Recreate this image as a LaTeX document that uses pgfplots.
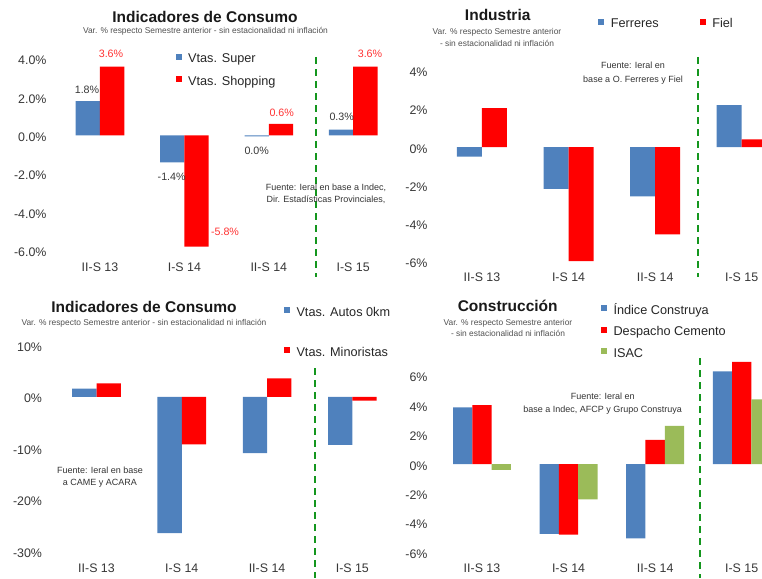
\documentclass[border=0pt]{standalone}
\usepackage{pgfplots}
\pgfplotsset{compat=1.18}
\usepackage{fontspec}
\setmainfont{Liberation Sans}
\definecolor{cblue}{RGB}{79,129,189}
\definecolor{cred}{RGB}{255,0,0}
\definecolor{cgreen}{RGB}{155,187,89}
\definecolor{dgreen}{RGB}{20,150,30}
\definecolor{tickc}{RGB}{55,55,55}
\definecolor{subc}{RGB}{80,80,80}
\definecolor{lred}{RGB}{255,50,50}
\pgfplotsset{
  panel/.style={scale only axis, anchor=south west,
    axis line style={draw=none}, major tick length=0pt,
    xtick={0,1,2,3}, xticklabels={II-S 13,I-S 14,II-S 14,I-S 15},
    tick label style={font=\fontsize{12.4}{14}\selectfont, text=tickc},
    yticklabel style={anchor=base east, yshift=-6pt},
    /pgf/number format/assume math mode=true,
    legend style={draw=none, fill=none, inner sep=0pt, outer sep=0pt, anchor=north west,
      font=\fontsize{12.7}{14}\selectfont, text=black!85,
      nodes={inner sep=0pt, text height=9pt, text depth=3pt}, column sep=6.5pt},
    legend cell align=left},
  sqb/.style={legend image code/.code={\fill[cblue] (0pt,0pt) rectangle (6pt,6pt);}},
  sqr/.style={legend image code/.code={\fill[cred] (0pt,0pt) rectangle (6pt,6pt);}},
  sqg/.style={legend image code/.code={\fill[cgreen] (0pt,0pt) rectangle (6pt,6pt);}},
}
\begin{document}
\begin{tikzpicture}
\useasboundingbox (0,0) rectangle (762pt,-578pt);
\clip (0,0) rectangle (762pt,-578pt);

% ---------- Panel 1 ----------
\begin{axis}[panel, at={(50pt,-254.2pt)}, width=336.96pt, height=212.57pt,
  xmin=-0.5924, xmax=3.4, ymin=-6.2, ymax=4.9,
  ytick={-6,-4,-2,0,2,4}, yticklabels={-6.0\%,-4.0\%,-2.0\%,0.0\%,2.0\%,4.0\%},
  xticklabel style={anchor=base, yshift=-17.1pt},
  legend style={at={(0.373,0.944)}, row sep=10.5pt}]
\addplot[ybar, fill=cblue, draw=none, bar width=24.3pt, bar shift=-12.15pt, sqb]
  coordinates {(0,1.8) (1,-1.4) (2,-0.05) (3,0.3)};
\addplot[ybar, fill=cred, draw=none, bar width=24.3pt, bar shift=12.15pt, sqr]
  coordinates {(0,3.6) (1,-5.8) (2,0.6) (3,3.6)};
\legend{Vtas. Super, Vtas. Shopping}
\end{axis}

% ---------- Panel 2 ----------
\begin{axis}[panel, at={(431pt,-270.5pt)}, width=330.96pt, height=216.6pt,
  xmin=-0.589, xmax=3.234, ymin=-6.5, ymax=4.9,
  ytick={-6,-4,-2,0,2,4}, yticklabels={-6\%,-4\%,-2\%,0\%,2\%,4\%},
  xticklabel style={anchor=base, yshift=-10.5pt},
  legend columns=2,
  legend style={at={(0.5055,1.162)}, /tikz/every even column/.append style={column sep=41pt}}]
\addplot[ybar, fill=cblue, draw=none, bar width=25pt, bar shift=-12.5pt, sqb]
  coordinates {(0,-0.5) (1,-2.2) (2,-2.6) (3,2.2)};
\addplot[ybar, fill=cred, draw=none, bar width=25pt, bar shift=12.5pt, sqr]
  coordinates {(0,2.05) (1,-6.0) (2,-4.6) (3,0.4)};
\legend{Ferreres, Fiel}
\end{axis}

% ---------- Panel 3 ----------
\begin{axis}[panel, at={(45.5pt,-558.9pt)}, width=335.5pt, height=218.45pt,
  xmin=-0.598, xmax=3.336, ymin=-31.5, ymax=11,
  ytick={-30,-20,-10,0,10}, yticklabels={-30\%,-20\%,-10\%,0\%,10\%},
  xticklabel style={anchor=base, yshift=-13.4pt},
  legend style={at={(0.7109,1.1522)}, row sep=28pt}]
\addplot[ybar, fill=cblue, draw=none, bar width=24.3pt, bar shift=-12.15pt, sqb]
  coordinates {(0,1.65) (1,-26.5) (2,-10.9) (3,-9.3)};
\addplot[ybar, fill=cred, draw=none, bar width=24.3pt, bar shift=12.15pt, sqr]
  coordinates {(0,2.65) (1,-9.2) (2,3.6) (3,-0.7)};
\legend{Vtas. Autos 0km, Vtas. Minoristas}
\end{axis}

% ---------- Panel 4 ----------
\begin{axis}[panel, at={(431pt,-560pt)}, width=330.96pt, height=203.4pt,
  xmin=-0.589, xmax=3.234, ymin=-6.52, ymax=7.3,
  ytick={-6,-4,-2,0,2,4,6}, yticklabels={-6\%,-4\%,-2\%,0\%,2\%,4\%,6\%},
  xticklabel style={anchor=base, yshift=-12.6pt},
  legend style={at={(0.5137,1.2537)}, row sep=9.5pt}]
\addplot[ybar, fill=cblue, draw=none, bar width=19.3pt, bar shift=-19.3pt, sqb]
  coordinates {(0,3.85) (1,-4.75) (2,-5.05) (3,6.3)};
\addplot[ybar, fill=cred, draw=none, bar width=19.3pt, bar shift=0pt, sqr]
  coordinates {(0,4.0) (1,-4.8) (2,1.65) (3,6.95)};
\addplot[ybar, fill=cgreen, draw=none, bar width=19.3pt, bar shift=19.3pt, sqg]
  coordinates {(0,-0.4) (1,-2.4) (2,2.6) (3,4.4)};
\legend{Índice Construya, Despacho Cemento, ISAC}
\end{axis}

% ---------- dashed separators ----------
\begin{scope}[dgreen, line width=1.8pt, dash pattern=on 7pt off 5pt]
\draw (315.7pt,-57pt) -- (315.7pt,-277pt);
\draw (697.7pt,-57pt) -- (697.7pt,-277pt);
\draw (315pt,-368pt) -- (315pt,-578pt);
\draw (700pt,-358pt) -- (700pt,-578pt);
\end{scope}

% ---------- titles ----------
\begin{scope}[every node/.style={inner sep=0pt}]
\node[font=\fontsize{15.5}{18}\selectfont\bfseries, text=black!90] at (205pt,-16.5pt) {Indicadores de Consumo};
\node[font=\fontsize{8.4}{10}\selectfont, text=subc] at (205.5pt,-31pt) {Var. \% respecto Semestre anterior - sin estacionalidad ni inflación};
\node[font=\fontsize{15.5}{18}\selectfont\bfseries, text=black!90] at (497.7pt,-15pt) {Industria};
\node[font=\fontsize{8.4}{12}\selectfont, text=subc, align=center] at (497pt,-37pt) {Var. \% respecto Semestre anterior\\- sin estacionalidad ni inflación};
\node[font=\fontsize{15.5}{18}\selectfont\bfseries, text=black!90] at (144pt,-306.7pt) {Indicadores de Consumo};
\node[font=\fontsize{8.4}{10}\selectfont, text=subc] at (144pt,-323.3pt) {Var. \% respecto Semestre anterior - sin estacionalidad ni inflación};
\node[font=\fontsize{15.5}{18}\selectfont\bfseries, text=black!90] at (507.7pt,-306pt) {Construcción};
\node[font=\fontsize{8.4}{11.5}\selectfont, text=subc, align=center] at (508pt,-328pt) {Var. \% respecto Semestre anterior\\- sin estacionalidad ni inflación};

% sources
\node[font=\fontsize{9}{12}\selectfont, text=black!80, align=center] at (326pt,-194pt) {Fuente: Ieral en base a Indec,\\Dir. Estadísticas Provinciales,};
\node[font=\fontsize{9}{13.3}\selectfont, text=black!80, align=center] at (633pt,-73.3pt) {Fuente: Ieral en\\base a O. Ferreres y Fiel};
\node[font=\fontsize{9}{12.3}\selectfont, text=black!80, align=center] at (100pt,-477pt) {Fuente: Ieral en base\\a CAME y ACARA};
\node[font=\fontsize{9}{13.5}\selectfont, text=black!80, align=center] at (602.7pt,-403.7pt) {Fuente: Ieral en\\base a Indec, AFCP y Grupo Construya};

% bar value labels panel 1
\node[font=\fontsize{10.7}{12}\selectfont, text=tickc] at (87pt,-89.5pt) {1.8\%};
\node[font=\fontsize{10.7}{12}\selectfont, text=lred] at (111pt,-54.3pt) {3.6\%};
\node[font=\fontsize{10.7}{12}\selectfont, text=tickc] at (171.7pt,-176.7pt) {-1.4\%};
\node[font=\fontsize{10.7}{12}\selectfont, text=lred] at (225pt,-231.7pt) {-5.8\%};
\node[font=\fontsize{10.7}{12}\selectfont, text=tickc] at (256.7pt,-150.7pt) {0.0\%};
\node[font=\fontsize{10.7}{12}\selectfont, text=lred] at (281.7pt,-113.3pt) {0.6\%};
\node[font=\fontsize{10.7}{12}\selectfont, text=tickc] at (341.7pt,-117.3pt) {0.3\%};
\node[font=\fontsize{10.7}{12}\selectfont, text=lred] at (370pt,-54.3pt) {3.6\%};
\end{scope}
\end{tikzpicture}
\end{document}
